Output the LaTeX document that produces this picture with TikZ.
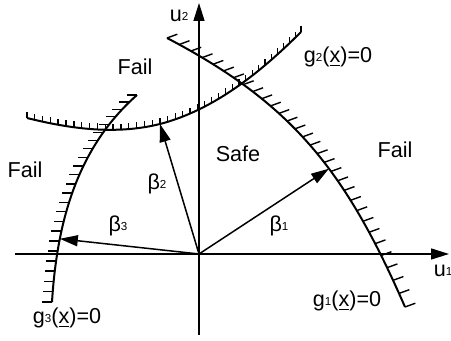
\documentclass[tikz,border=0pt]{standalone}
\usepackage{fontspec}
\setmainfont{Liberation Sans}
\usetikzlibrary{arrows.meta}
\newcommand{\mysub}[1]{\raisebox{0.6pt}{\fontsize{5.8pt}{6pt}\selectfont #1}}
\tikzset{
  lbl/.style={inner sep=0pt, font=\fontsize{10.8pt}{13pt}\selectfont},
  axis/.style={line width=0.75pt, -{Triangle[length=9pt,width=5.5pt]}},
  vec/.style={line width=0.75pt, -{Triangle[length=9pt,width=5.5pt]}},
  limit/.style={line width=1pt},
  hatchtick/.style={line width=0.7pt}
}
\begin{document}
\begin{tikzpicture}[x=0.5pt,y=0.5pt]
\useasboundingbox (0,0) rectangle (451,341);
% axes
\coordinate (O) at (199,87);
\coordinate (xs) at (15,87);
\coordinate (xe) at (449,87);
\coordinate (ys) at (199,6);
\coordinate (ye) at (199,338);
\draw[axis] (xs) -- (xe);
\draw[axis] (ys) -- (ye);
% curve g1
\coordinate (g1a) at (167,303);
\coordinate (g1b) at (291,238);
\coordinate (g1c) at (345,172);
\coordinate (g1d) at (405,34);
\draw[limit] (g1a) .. controls (g1b) and (g1c) .. (g1d);
\foreach \i [evaluate=\i as \tp using \i/30] in {0,...,30} {
  \path (g1a) .. controls (g1b) and (g1c) .. (g1d) coordinate[pos=\tp] (hk);
  \draw[hatchtick] (hk) -- ++(20:11);
}
% curve g2 (two pieces)
\coordinate (g2a) at (27,223);
\coordinate (g2b) at (71,212);
\coordinate (g2c) at (116,206);
\coordinate (P2) at (160,217);
\coordinate (g2e) at (214,231);
\coordinate (g2f) at (261,269);
\coordinate (g2g) at (301,309);
\draw[limit] (g2a) .. controls (g2b) and (g2c) .. (P2) .. controls (g2e) and (g2f) .. (g2g);
\foreach \i [evaluate=\i as \tp using \i/17] in {0,...,16} {
  \path (g2a) .. controls (g2b) and (g2c) .. (P2) coordinate[pos=\tp] (hk);
  \draw[hatchtick] (hk) -- ++(90:6);
}
\foreach \i [evaluate=\i as \tp using \i/21] in {0,...,21} {
  \path (P2) .. controls (g2e) and (g2f) .. (g2g) coordinate[pos=\tp] (hk);
  \draw[hatchtick] (hk) -- ++(90:6);
}
% curve g3
\coordinate (g3a) at (52,39);
\coordinate (g3b) at (57,119);
\coordinate (g3c) at (77,193);
\coordinate (g3d) at (137,246);
\draw[limit] (g3a) .. controls (g3b) and (g3c) .. (g3d);
\foreach \i [evaluate=\i as \tp using \i/23] in {0,...,23} {
  \path (g3a) .. controls (g3b) and (g3c) .. (g3d) coordinate[pos=\tp] (hk);
  \draw[hatchtick] (hk) -- ++(180:10);
}
% design points on the curves
\path (g1a) .. controls (g1b) and (g1c) .. (g1d) coordinate[pos=0.59] (P1);
\path (g3a) .. controls (g3b) and (g3c) .. (g3d) coordinate[pos=0.27] (P3);
\draw[vec] (O) -- (P1);
\draw[vec] (O) -- (P2);
\draw[vec] (O) -- (P3);
% labels
\node[lbl] (u2) at (179,325) {u\mysub{2}};
\node[lbl] (u1) at (443,70) {u\mysub{1}};
\node[lbl] (f1) at (135,274) {Fail};
\node[lbl] (f2) at (25,171) {Fail};
\node[lbl] (f3) at (395,191) {Fail};
\node[lbl] (safe) at (238,187) {Safe};
\node[lbl] (b1) at (279,115) {β\mysub{1}};
\node[lbl] (b2) at (157,157) {β\mysub{2}};
\node[lbl] (b3) at (118,115) {β\mysub{3}};
\node[lbl] (g1) at (347,40) {g\mysub{1}(\underline{x})=0};
\node[lbl] (g2) at (338,284) {g\mysub{2}(\underline{x})=0};
\node[lbl] (g3) at (67,23) {g\mysub{3}(\underline{x})=0};
\end{tikzpicture}
\end{document}
